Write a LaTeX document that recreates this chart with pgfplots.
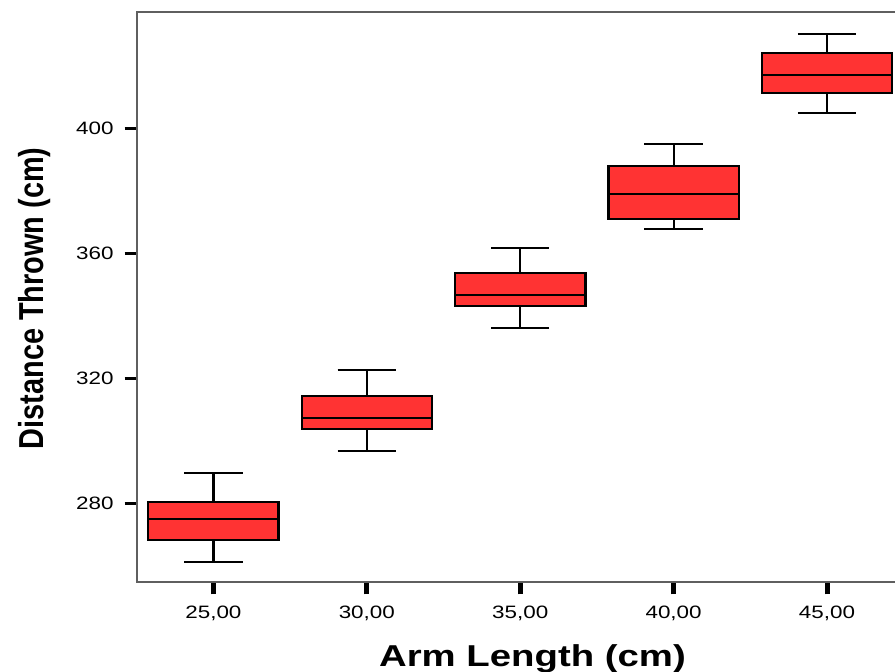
\documentclass[border=0pt]{standalone}
\usepackage{pgfplots}
\pgfplotsset{compat=1.18}
\usepgfplotslibrary{statistics}
\usepackage{graphicx}
\usepackage{fontspec}
\setmainfont{Liberation Sans}
\newfontfamily\tickfont[FakeStretch=1.25]{Liberation Sans}
\newfontfamily\xlabfont[FakeStretch=1.27]{Liberation Sans}
\definecolor{boxred}{RGB}{255,51,51}
\definecolor{framegray}{RGB}{95,95,95}

\begin{document}
\begin{tikzpicture}[x=1bp,y=1bp]
\useasboundingbox (0,0) rectangle (895bp,672bp);
\clip (0,0) rectangle (895bp,672bp);
\begin{axis}[
  at={(136.7bp,89.7bp)}, anchor=south west,
  scale only axis, width=767bp, height=570.3bp,
  xmin=-0.5, xmax=4.5, ymin=254.72, ymax=437.22,
  xtick={0,1,2,3,4},
  xticklabels={{25,00},{30,00},{35,00},{40,00},{45,00}},
  ytick={280,320,360,400},
  tick pos=left, tick align=outside, major tick length=12bp,
  xtick style={black, line width=5bp},
  ytick style={black, line width=3.5bp},
  axis line style={framegray, line width=1.8bp},
  tick label style={font=\tickfont\fontsize{18}{18}\selectfont, inner sep=0pt},
  /pgf/number format/assume math mode=true,
  xticklabel shift=11.7bp, yticklabel shift=11bp,
  boxplot/draw direction=y,
  clip=false,
]
% 25,00
\addplot[boxplot prepared={draw position=0, lower whisker=261.2, lower quartile=268.3,
  median=275.0, upper quartile=280.3, upper whisker=289.6, box extend=0.85, whisker extend=0.38},
  fill=boxred, draw=black, line width=2.2bp] coordinates {};
% 30,00
\addplot[boxplot prepared={draw position=1, lower whisker=296.7, lower quartile=303.7,
  median=307.4, upper quartile=314.4, upper whisker=322.7, box extend=0.85, whisker extend=0.38},
  fill=boxred, draw=black, line width=2.2bp] coordinates {};
% 35,00
\addplot[boxplot prepared={draw position=2, lower whisker=336.0, lower quartile=343.1,
  median=346.7, upper quartile=353.6, upper whisker=361.8, box extend=0.85, whisker extend=0.38},
  fill=boxred, draw=black, line width=2.2bp] coordinates {};
% 40,00
\addplot[boxplot prepared={draw position=3, lower whisker=367.7, lower quartile=370.9,
  median=378.9, upper quartile=387.9, upper whisker=394.9, box extend=0.85, whisker extend=0.38},
  fill=boxred, draw=black, line width=2.2bp] coordinates {};
% 45,00
\addplot[boxplot prepared={draw position=4, lower whisker=404.9, lower quartile=411.4,
  median=417.0, upper quartile=424.0, upper whisker=430.3, box extend=0.85, whisker extend=0.38},
  fill=boxred, draw=black, line width=2.2bp] coordinates {};
\end{axis}
\node[anchor=base, inner sep=0pt, font=\xlabfont\bfseries\fontsize{30.3}{30}\selectfont]
  at (532.5bp,5.3bp) {Arm Length (cm)};
\node[rotate=90, anchor=base, inner sep=0pt] at (43.3bp,373.7bp)
  {\scalebox{1}[1.2]{\bfseries\fontsize{29}{29}\selectfont Distance Thrown (cm)}};
\end{tikzpicture}
\end{document}
